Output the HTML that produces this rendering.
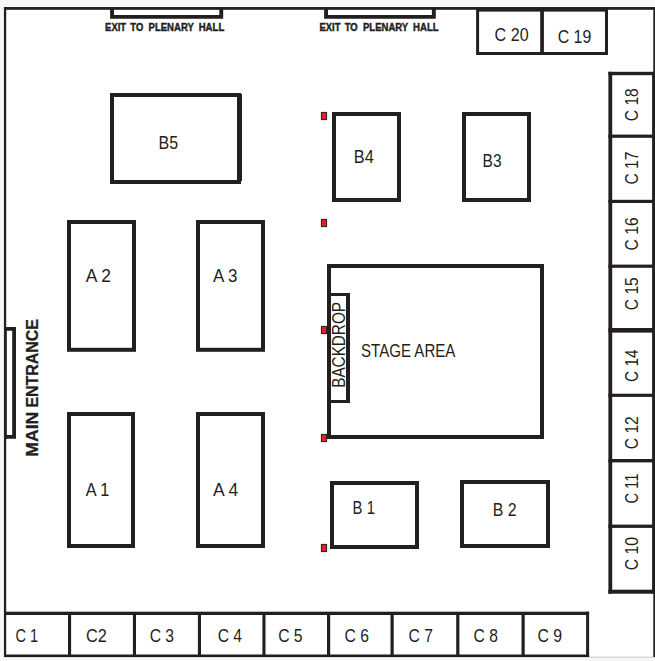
<!DOCTYPE html>
<html><head><meta charset="utf-8"><title>Floor plan</title>
<style>
html,body{margin:0;padding:0;background:#f7f7f7;}
svg{display:block}
text{font-family:"Liberation Sans",sans-serif;fill:#231f20}
.b{fill:#fff;stroke:#231f20;stroke-width:4}
.c{fill:#fff;stroke:#231f20;stroke-width:3}
.t{fill:none;stroke:#231f20;stroke-width:3.5}
.k{fill:#231f20}
.r{fill:#ed1c24;stroke:#231f20;stroke-width:1}
.l{font-size:18.4px}
.e{font-size:11.3px;font-weight:bold;stroke:#231f20;stroke-width:0.45px}
.m{font-size:17px;font-weight:bold;stroke:#231f20;stroke-width:0.3px}
</style></head><body>
<svg width="655" height="661" viewBox="0 0 655 661">
<rect x="0" y="0" width="655" height="661" fill="#f7f7f7"/>
<rect x="3.3" y="6.3" width="652" height="650.7" fill="#fff"/>
<rect x="4" y="656.7" width="651" height="0.9" fill="#c6c6c6"/>
<!-- outer frame -->
<rect class="k" x="4" y="7" width="651" height="2.8"/>
<rect class="k" x="3.9" y="7" width="2.3" height="650"/>
<rect class="k" x="653.3" y="7" width="1.7" height="650"/>
<!-- exits -->
<path class="t" d="M112.05 8 V16.9 H221.25 V8" style="stroke-width:3.9"/>
<path class="t" d="M326.05 8 V16.9 H433.85 V8" style="stroke-width:3.9"/>
<text class="e" y="31"><tspan x="105.1" textLength="21.0" lengthAdjust="spacingAndGlyphs">EXIT</tspan> <tspan x="130.3" textLength="12.9" lengthAdjust="spacingAndGlyphs">TO</tspan> <tspan x="148.6" textLength="45.0" lengthAdjust="spacingAndGlyphs">PLENARY</tspan> <tspan x="198.7" textLength="25.6" lengthAdjust="spacingAndGlyphs">HALL</tspan></text>
<text class="e" y="31"><tspan x="319.5" textLength="21.0" lengthAdjust="spacingAndGlyphs">EXIT</tspan> <tspan x="344.7" textLength="12.9" lengthAdjust="spacingAndGlyphs">TO</tspan> <tspan x="363.0" textLength="45.0" lengthAdjust="spacingAndGlyphs">PLENARY</tspan> <tspan x="413.1" textLength="25.6" lengthAdjust="spacingAndGlyphs">HALL</tspan></text>
<!-- main entrance -->
<path class="t" d="M5 328.9 H14.1 V436.9 H5" style="stroke-width:3.8"/>
<rect class="k" x="4" y="327" width="2.8" height="111.8"/>
<text class="m" transform="translate(38.3 456.8) rotate(-90)"><tspan x="0" textLength="45.2" lengthAdjust="spacingAndGlyphs">MAIN</tspan> <tspan x="49.2" textLength="88.6" lengthAdjust="spacingAndGlyphs">ENTRANCE</tspan></text>
<!-- top right boxes -->
<rect class="c" x="477.6" y="10.1" width="128.9" height="43.4"/>
<rect class="k" x="540.2" y="9" width="3.7" height="45.5"/>
<text class="l" x="494.6" y="41.1" textLength="34" lengthAdjust="spacingAndGlyphs">C 20</text>
<text class="l" x="557.7" y="42.5" textLength="33.6" lengthAdjust="spacingAndGlyphs">C 19</text>
<!-- right column -->
<rect x="610" y="73" width="44" height="518" fill="#fff"/>
<rect class="k" x="608.4" y="71.8" width="3.8" height="521.9"/>
<rect class="k" x="652.1" y="71.8" width="2.9" height="521.9"/>
<rect class="k" x="608.4" y="71.8" width="46.6" height="3.4"/>
<rect class="k" x="608.4" y="589.7" width="46.6" height="4"/>
<rect class="k" x="608.4" y="134.6" width="46.6" height="3.2"/>
<rect class="k" x="608.4" y="199.8" width="46.6" height="3.2"/>
<rect class="k" x="608.4" y="264.6" width="46.6" height="3.2"/>
<rect class="k" x="608.4" y="328" width="46.6" height="4.6"/>
<rect class="k" x="608.4" y="393.7" width="46.6" height="3.2"/>
<rect class="k" x="608.4" y="459" width="46.6" height="3.4"/>
<rect class="k" x="608.4" y="524.6" width="46.6" height="3.3"/>
<text class="l" transform="translate(638.3 121.2) rotate(-90)" textLength="33" lengthAdjust="spacingAndGlyphs">C 18</text>
<text class="l" transform="translate(638.3 184.6) rotate(-90)" textLength="33" lengthAdjust="spacingAndGlyphs">C 17</text>
<text class="l" transform="translate(638.3 250.4) rotate(-90)" textLength="33" lengthAdjust="spacingAndGlyphs">C 16</text>
<text class="l" transform="translate(638.3 310.2) rotate(-90)" textLength="33" lengthAdjust="spacingAndGlyphs">C 15</text>
<text class="l" transform="translate(638.3 382) rotate(-90)" textLength="32.5" lengthAdjust="spacingAndGlyphs">C 14</text>
<text class="l" transform="translate(638.3 449.2) rotate(-90)" textLength="33" lengthAdjust="spacingAndGlyphs">C 12</text>
<text class="l" transform="translate(638.3 503.6) rotate(-90)" textLength="30" lengthAdjust="spacingAndGlyphs">C 11</text>
<text class="l" transform="translate(638.3 570.2) rotate(-90)" textLength="33.2" lengthAdjust="spacingAndGlyphs">C 10</text>
<!-- B row -->
<rect class="b" x="112" y="95" width="127" height="87"/>
<rect class="k" x="237.3" y="94" width="4.7" height="87"/>
<text class="l" x="158.6" y="148.9" textLength="19.6" lengthAdjust="spacingAndGlyphs">B5</text>
<rect class="b" x="334" y="114" width="65" height="86"/>
<text class="l" x="353.8" y="162.8" textLength="20" lengthAdjust="spacingAndGlyphs">B4</text>
<rect class="b" x="464" y="114" width="65" height="86"/>
<text class="l" x="482.6" y="167" textLength="19" lengthAdjust="spacingAndGlyphs">B3</text>
<!-- A -->
<rect class="b" x="69" y="222" width="65" height="127.8"/>
<text class="l" x="85.8" y="282" textLength="25.2" lengthAdjust="spacingAndGlyphs">A 2</text>
<rect class="b" x="198" y="222" width="65" height="127.8"/>
<text class="l" x="212.9" y="282" textLength="24.5" lengthAdjust="spacingAndGlyphs">A 3</text>
<rect class="b" x="69" y="414" width="64" height="132"/>
<text class="l" x="85.8" y="496" textLength="23.5" lengthAdjust="spacingAndGlyphs">A 1</text>
<rect class="b" x="198" y="414" width="65" height="132"/>
<text class="l" x="212.9" y="496" textLength="25.3" lengthAdjust="spacingAndGlyphs">A 4</text>
<!-- stage -->
<rect class="b" x="329" y="266" width="213" height="171"/>
<rect class="k" x="329" y="293" width="21" height="3"/>
<rect class="k" x="329" y="400" width="21" height="3"/>
<rect class="k" x="346" y="293" width="4" height="110"/>
<text class="l" transform="translate(344.8 387.8) rotate(-90)" textLength="85.8" lengthAdjust="spacingAndGlyphs">BACKDROP</text>
<text class="l" x="361" y="357.4" textLength="94.4" lengthAdjust="spacingAndGlyphs">STAGE AREA</text>
<!-- B1 B2 -->
<rect class="b" x="332" y="483" width="85" height="64"/>
<text class="l" x="352.6" y="514.1" textLength="22.3" lengthAdjust="spacingAndGlyphs">B 1</text>
<rect class="b" x="462" y="482" width="86" height="64"/>
<text class="l" x="492.7" y="515.6" textLength="23.9" lengthAdjust="spacingAndGlyphs">B 2</text>
<!-- bottom row -->
<rect class="k" x="4" y="611.7" width="585.1" height="3.3"/>
<rect class="k" x="4" y="654.5" width="585.1" height="2.5"/>
<rect class="k" x="68" y="613" width="3.1" height="43"/>
<rect class="k" x="132.9" y="613" width="3.1" height="43"/>
<rect class="k" x="197.9" y="613" width="3.1" height="43"/>
<rect class="k" x="262.4" y="613" width="3.1" height="43"/>
<rect class="k" x="327" y="613" width="3.2" height="43"/>
<rect class="k" x="390.5" y="613" width="3.2" height="43"/>
<rect class="k" x="456.2" y="613" width="3.2" height="43"/>
<rect class="k" x="521.5" y="613" width="3.2" height="43"/>
<rect class="k" x="586.1" y="611.7" width="3" height="45.3"/>
<text class="l" x="15.4" y="641.9" textLength="22.6" lengthAdjust="spacingAndGlyphs">C 1</text>
<text class="l" x="86" y="641.9" textLength="20.8" lengthAdjust="spacingAndGlyphs">C2</text>
<text class="l" x="149.7" y="641.9" textLength="24.4" lengthAdjust="spacingAndGlyphs">C 3</text>
<text class="l" x="217.7" y="641.9" textLength="24.4" lengthAdjust="spacingAndGlyphs">C 4</text>
<text class="l" x="278.2" y="641.9" textLength="24.4" lengthAdjust="spacingAndGlyphs">C 5</text>
<text class="l" x="344.6" y="641.9" textLength="24.4" lengthAdjust="spacingAndGlyphs">C 6</text>
<text class="l" x="408.6" y="641.9" textLength="24.4" lengthAdjust="spacingAndGlyphs">C 7</text>
<text class="l" x="473.6" y="641.9" textLength="24.4" lengthAdjust="spacingAndGlyphs">C 8</text>
<text class="l" x="537.4" y="641.9" textLength="24.6" lengthAdjust="spacingAndGlyphs">C 9</text>
<!-- red markers -->
<rect class="r" x="321.4" y="112.4" width="5.2" height="7.2"/>
<rect class="r" x="321.4" y="219.4" width="5.2" height="7.2"/>
<rect class="r" x="321.4" y="326.4" width="5.2" height="7.2"/>
<rect class="r" x="321.4" y="434.4" width="5.2" height="7.2"/>
<rect class="r" x="321.4" y="544.4" width="5.2" height="7.2"/>
</svg>
</body></html>
